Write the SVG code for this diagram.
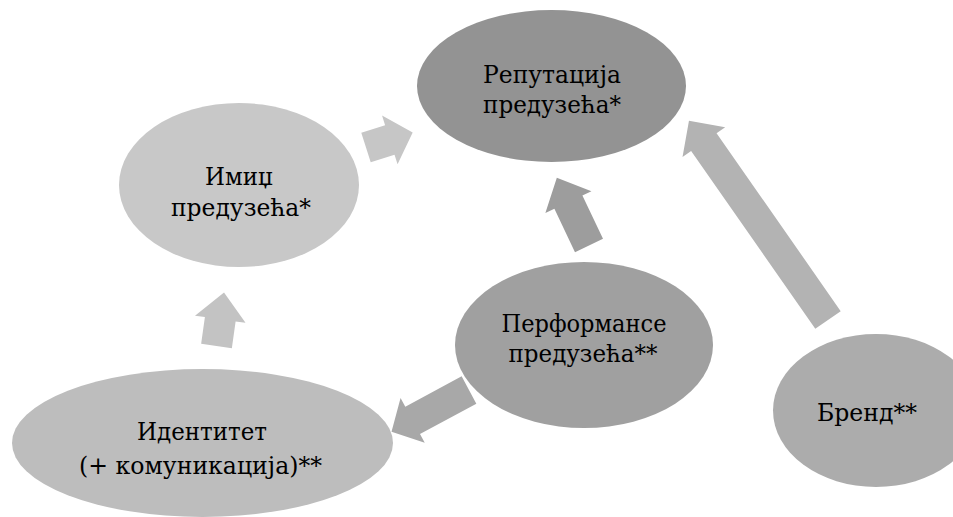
<svg xmlns="http://www.w3.org/2000/svg" width="953" height="517" viewBox="0 0 953 517">
<style>
  .lbl { font-family: "DejaVu Serif", serif; font-size: 25px; fill: #000; text-anchor: middle; }
</style>
<rect width="953" height="517" fill="#ffffff"/>
<g id="connectors">
  <polygon id="arrow-image-reputation" fill="#c6c6c6" transform="translate(366,147.5) rotate(-17.7)" points="0,-15.5 25,-15.5 25,-25.5 49,0 25,25.5 25,15.5 0,15.5"/>
  <polygon id="arrow-identity-image" fill="#c3c3c3" transform="translate(216.5,346) rotate(-82)" points="0,-15.5 27,-15.5 27,-25.5 54,0 27,25.5 27,15.5 0,15.5"/>
  <polygon id="arrow-performance-reputation" fill="#9d9d9d" transform="translate(589,245.5) rotate(-115.4)" points="0,-15.5 48,-15.5 48,-25.5 75,0 48,25.5 48,15.5 0,15.5"/>
  <polygon id="arrow-brand-reputation" fill="#b3b3b3" transform="translate(828,320) rotate(-124.9)" points="0,-15.5 217,-15.5 217,-26 243,0 217,26 217,15.5 0,15.5"/>
  <polygon id="arrow-performance-identity" fill="#a8a8a8" transform="translate(469,390) rotate(151.7)" points="0,-15.5 64,-15.5 64,-25.5 88,0 64,25.5 64,15.5 0,15.5"/>
</g>
<g id="node-reputation">
  <ellipse cx="551.5" cy="86" rx="134.5" ry="76" fill="#939393"/>
  <text class="lbl" x="552" y="83" textLength="138" lengthAdjust="spacingAndGlyphs">Репутација</text>
  <text class="lbl" x="552" y="113" textLength="138" lengthAdjust="spacingAndGlyphs">предузећа*</text>
</g>
<g id="node-image">
  <ellipse cx="239" cy="185" rx="120" ry="82" fill="#c8c8c8"/>
  <text class="lbl" x="239" y="185" textLength="68" lengthAdjust="spacingAndGlyphs">Имиџ</text>
  <text class="lbl" x="241" y="216" textLength="140" lengthAdjust="spacingAndGlyphs">предузећа*</text>
</g>
<g id="node-identity">
  <ellipse cx="202.5" cy="443" rx="190.5" ry="74" fill="#bdbdbd"/>
  <text class="lbl" x="202" y="440" textLength="130" lengthAdjust="spacingAndGlyphs">Идентитет</text>
  <text class="lbl" x="200.5" y="474" textLength="243" lengthAdjust="spacingAndGlyphs">(+ комуникација)**</text>
</g>
<g id="node-performance">
  <ellipse cx="584" cy="345" rx="129" ry="83" fill="#a0a0a0"/>
  <text class="lbl" x="584" y="332" textLength="165" lengthAdjust="spacingAndGlyphs">Перформансе</text>
  <text class="lbl" x="583" y="362" textLength="149" lengthAdjust="spacingAndGlyphs">предузећа**</text>
</g>
<g id="node-brand">
  <ellipse cx="876" cy="410.5" rx="103" ry="76.5" fill="#acacac"/>
  <text class="lbl" x="867" y="421" textLength="100" lengthAdjust="spacingAndGlyphs">Бренд**</text>
</g>
</svg>
